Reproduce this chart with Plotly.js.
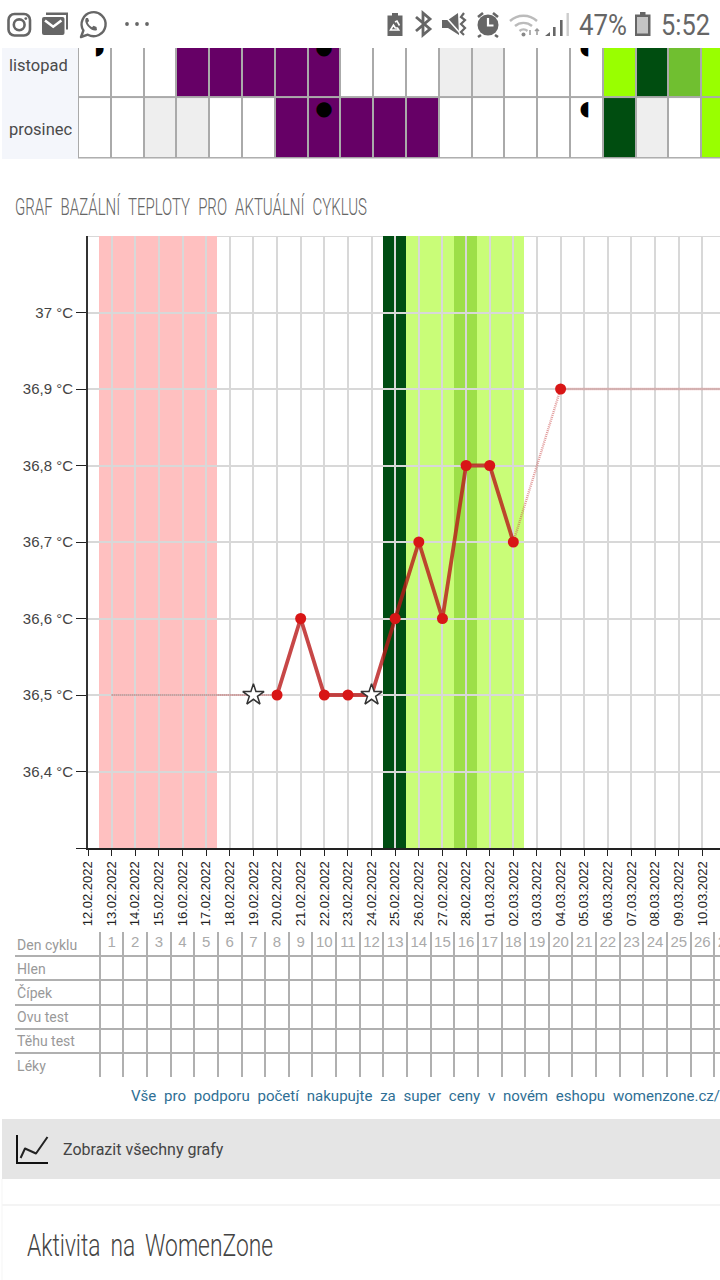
<!DOCTYPE html>
<html>
<head>
<meta charset="utf-8">
<script src="https://cdn.plot.ly/plotly-3.0.1.min.js"></script>
<style>
html,body{margin:0;padding:0;background:#fff;width:720px;height:1280px;overflow:hidden}
#wrap{position:relative;width:720px;height:1280px;overflow:hidden}
#chart{position:absolute;left:0;top:0}
#icons{position:absolute;left:0;top:0;pointer-events:none}
#icons text{font-family:Roboto,sans-serif}
</style>
</head>
<body>
<div id="wrap">
<div id="chart"></div>
<svg id="icons" width="720" height="1280" viewBox="0 0 720 1280" xmlns="http://www.w3.org/2000/svg">
  <g fill="none" stroke="#666" stroke-width="2.6">
    <rect x="8.5" y="14" width="21.5" height="21.5" rx="6"/>
    <circle cx="19.2" cy="24.8" r="5.4"/>
  </g>
  <circle cx="25.8" cy="18.6" r="1.4" fill="#666"/>
  <path d="M46 15v-2.5h22v17h-2V15z" fill="#666"/>
  <rect x="42" y="17" width="22.5" height="18" rx="2" fill="#666"/>
  <path d="M45 20.5l8.2 6.2 8.2-6.2" fill="none" stroke="#fff" stroke-width="2.6"/>
  <path d="M81 37l2.4-6.5a12 12 0 1 1 4.4 4.2z" fill="none" stroke="#666" stroke-width="2.4" stroke-linejoin="round"/>
  <path d="M86 18c-2 3 .5 7 3 9.5s5.5 4 8 2.5l-.5-3-3-1.3-1.5 1.5c-2-1-3.5-2.7-4.3-4.6l1.4-1.5-1.1-3z" fill="#666"/>
  <g fill="#666">
    <circle cx="127" cy="24" r="1.9"/><circle cx="137" cy="24" r="1.9"/><circle cx="147" cy="24" r="1.9"/>
    <path d="M392 13h6v2.5h4.5V36h-15V15.5H392z"/>
  </g>
  <path d="M390.5 30l3-5 1.8 3h2.2l1.2 2zM395 22l2-1 2.5 4.5" fill="none" stroke="#fff" stroke-width="1.6"/>
  <path d="M416 17l14 12-7 6V13l7 6-14 12" fill="none" stroke="#666" stroke-width="2.8"/>
  <path d="M442 20h6l10-7 1 22-11-7h-6z" fill="#666"/>
  <path d="M443 14l17 19" stroke="#fff" stroke-width="1.6"/>
  <path d="M464 13l-3 4 4 3-4 4 4 4-4 4 3 3" fill="none" stroke="#666" stroke-width="2.2"/>
  <circle cx="488" cy="25" r="10.5" fill="#666"/>
  <path d="M488 18v7.5h5.5" fill="none" stroke="#fff" stroke-width="2.2"/>
  <path d="M478 17l5-4M498 17l-5-4M481 35l-3 2M495 35l3 2" stroke="#666" stroke-width="2.6"/>
  <g fill="none" stroke="#bbb" stroke-width="2.4">
    <path d="M510 21a20 20 0 0 1 27 0"/><path d="M515 26a13 13 0 0 1 17 0"/><path d="M519.5 31a6 6 0 0 1 8 0"/>
  </g>
  <circle cx="523.5" cy="34.5" r="2" fill="#888"/>
  <path d="M530 30v5M535 31l2-2 2 2M537 29v6" fill="none" stroke="#999" stroke-width="1.5"/>
  <g fill="#666">
    <path d="M545 36l5-4v4zM553 36v-9h2.6v9z"/><path d="M560 36V20h2.6v16z"/>
  </g>
  <path d="M566.5 36V13h2.4v23z" fill="#ccc"/>
  <path d="M640 12h5.5v2.5h5V36h-15.5V14.5h5z" fill="#666"/>
  <rect x="637" y="17" width="11" height="16.5" fill="#c4c4c4"/>
  <path d="M17 1135v28h31" fill="none" stroke="#111" stroke-width="2"/>
  <path d="M20.6 1158L25 1148.5 36 1153.5 47.5 1137" fill="none" stroke="#222" stroke-width="2" stroke-linejoin="round"/>

  <text x="579" y="35" font-size="30" font-weight="400" fill="#666" textLength="48" lengthAdjust="spacingAndGlyphs">47%</text>
  <text x="661" y="35" font-size="30" font-weight="400" fill="#666" textLength="49" lengthAdjust="spacingAndGlyphs">5:52</text>
  <text x="15" y="215" font-size="24" font-weight="300" fill="#666" word-spacing="7" textLength="352" lengthAdjust="spacingAndGlyphs">GRAF BAZÁLNÍ TEPLOTY PRO AKTUÁLNÍ CYKLUS</text>
  <text x="131" y="1101" font-size="15" font-weight="400" fill="#2f6f95" word-spacing="4" textLength="589" lengthAdjust="spacingAndGlyphs">Vše pro podporu početí nakupujte za super ceny v novém eshopu womenzone.cz/</text>
  <text x="27" y="1256" font-size="32" font-weight="300" fill="#444" word-spacing="6" textLength="246" lengthAdjust="spacingAndGlyphs">Aktivita na WomenZone</text>
</svg>
</div>
<script>
// ---------- data ----------
var dates = ['12.02.2022','13.02.2022','14.02.2022','15.02.2022','16.02.2022','17.02.2022','18.02.2022','19.02.2022','20.02.2022','21.02.2022','22.02.2022','23.02.2022','24.02.2022','25.02.2022','26.02.2022','27.02.2022','28.02.2022','01.03.2022','02.03.2022','03.03.2022','04.03.2022','05.03.2022','06.03.2022','07.03.2022','08.03.2022','09.03.2022','10.03.2022','11.03.2022','12.03.2022'];

var bandDates = ['13.02.2022','14.02.2022','15.02.2022','16.02.2022','17.02.2022','25.02.2022','26.02.2022','27.02.2022','28.02.2022','01.03.2022','02.03.2022'];
var bandColors = ['#ffc0c0','#ffc0c0','#ffc0c0','#ffc0c0','#ffc0c0','#004d13','#c9fd78','#c9fd78','#9ddf48','#c9fd78','#c9fd78'];

var leadDates = ['13.02.2022','14.02.2022','15.02.2022','16.02.2022','17.02.2022','18.02.2022','19.02.2022','20.02.2022'];
var leadTemps = [36.5,36.5,36.5,36.5,36.5,36.5,36.5,36.5];

var mainDates = ['20.02.2022','21.02.2022','22.02.2022','23.02.2022','24.02.2022','25.02.2022','26.02.2022','27.02.2022','28.02.2022','01.03.2022','02.03.2022'];
var mainTemps = [36.5,36.6,36.5,36.5,36.5,36.6,36.7,36.6,36.8,36.8,36.7];

var tailDates = ['02.03.2022','04.03.2022','05.03.2022','06.03.2022','07.03.2022','08.03.2022','09.03.2022','10.03.2022','11.03.2022','12.03.2022'];
var tailTemps = [36.7,36.9,36.9,36.9,36.9,36.9,36.9,36.9,36.9,36.9];

var dotDates = ['20.02.2022','21.02.2022','22.02.2022','23.02.2022','25.02.2022','26.02.2022','27.02.2022','28.02.2022','01.03.2022','02.03.2022','04.03.2022'];
var dotTemps = [36.5,36.6,36.5,36.5,36.6,36.7,36.6,36.8,36.8,36.7,36.9];

var starDates = ['19.02.2022','24.02.2022'];
var starTemps = [36.5,36.5];

var tempTicks = [36.3,36.4,36.5,36.6,36.7,36.8,36.9,37];
var tempLabels = ['','36,4 °C','36,5 °C','36,6 °C','36,7 °C','36,8 °C','36,9 °C','37 °C'];

var cycleDays = [1,2,3,4,5,6,7,8,9,10,11,12,13,14,15,16,17,18,19,20,21,22,23,24,25,26,27];
var tableRows = ['Den cyklu','Hlen','Čípek','Ovu test','Těhu test','Léky'];

var calendarColumns = [0,1,2,3,4,5,6,7,8,9,10,11,12,13,14,15,16,17,18,19];
var listopadCells = [0,0,0,2,2,2,2,2,0,0,0,1,1,0,0,0,3,4,5,3];
var prosinecCells = [0,0,1,1,0,0,2,2,2,2,2,0,0,0,0,0,4,1,0,3];
var moonCols = [0.15,7,14.95,7,14.95];
var moonRows = [-0.28,-0.28,-0.28,0.72,0.72];
var moonGlyphs = ['◗','●','◖','●','◖'];

// ---------- page geometry ----------
var W = 760, H = 1280;
var px = function(x){return x/W;};
var py = function(y){return 1-y/H;};
var dayW = 23.63, chartL = 88, chartT = 236, chartB = 848;
var xRange = [0,(W-chartL)/dayW];
var tableXRange = [(15-chartL)/dayW,(W-chartL)/dayW];
var cellW = 32.8;

var sans = 'Liberation Sans, Arial, sans-serif';
var roboto = 'Roboto, sans-serif';

var traces = [
  {type:'bar',xaxis:'x',yaxis:'y',x:bandDates,y:bandDates.map(function(){return 0.8;}),base:36.3,width:1,offset:-0.53,
   marker:{color:bandColors,line:{width:0}},hoverinfo:'skip',showlegend:false},
  {type:'scatter',mode:'lines',xaxis:'x2',yaxis:'y2',x:leadDates,y:leadTemps,
   line:{color:'rgba(190,60,60,0.8)',width:1.5,dash:'1px,1px'},showlegend:false},
  {type:'scatter',mode:'lines',xaxis:'x2',yaxis:'y2',x:tailDates,y:tailTemps,
   line:{color:'rgba(205,85,85,0.6)',width:2.4,dash:'1px,1px'},showlegend:false},
  {type:'scatter',mode:'lines',xaxis:'x2',yaxis:'y2',x:mainDates,y:mainTemps,
   line:{color:'rgba(185,25,25,0.8)',width:3.8},showlegend:false},
  {type:'scatter',mode:'markers',xaxis:'x2',yaxis:'y2',x:dotDates,y:dotTemps,
   marker:{color:'#d81616',size:11,line:{width:0}},showlegend:false},
  {type:'scatter',mode:'markers',xaxis:'x2',yaxis:'y2',x:starDates,y:starTemps,
   marker:{symbol:'star',color:'#ffffff',size:16,line:{color:'#333',width:1.5}},showlegend:false},
  // calendar
  {type:'heatmap',xaxis:'x3',yaxis:'y3',x:calendarColumns,y:[0,1],z:[listopadCells,prosinecCells],xgap:2,ygap:2,
   zmin:0,zmax:5,showscale:false,hoverinfo:'skip',
   colorscale:[[0,'#ffffff'],[0.1666,'#ffffff'],[0.1667,'#eeeeee'],[0.3333,'#eeeeee'],[0.3334,'#660066'],[0.5,'#660066'],[0.5001,'#99ff00'],[0.6666,'#99ff00'],[0.6667,'#004d10'],[0.8333,'#004d10'],[0.8334,'#70bf30'],[1,'#70bf30']]},
  {type:'scatter',mode:'text',xaxis:'x3',yaxis:'y3',x:moonCols,y:moonRows,text:moonGlyphs,
   textfont:{family:'DejaVu Sans',size:20,color:'#000'},textposition:'middle center',showlegend:false,cliponaxis:true},
  // cycle table
  {type:'scatter',mode:'text',xaxis:'x4',yaxis:'y4',x:cycleDays,y:cycleDays.map(function(){return 0.47;}),text:cycleDays.map(String),
   textfont:{family:sans,size:15,color:'#aaaaaa'},textposition:'middle center',showlegend:false,cliponaxis:false},
  {type:'scatter',mode:'text',xaxis:'x4',yaxis:'y4',x:tableRows.map(function(){return -3;}),y:[0.58,1.58,2.58,3.58,4.58,5.58],text:tableRows,
   textfont:{family:roboto,size:14,color:'#999999'},textposition:'middle right',showlegend:false,cliponaxis:false}
];

function ann(text,x,y,size,color,family){
  return {text:text,xref:'paper',yref:'paper',x:px(x),y:py(y),xanchor:'left',yanchor:'middle',showarrow:false,
    font:{size:size,color:color,family:family},borderpad:0,borderwidth:0};
}

var layout = {
  width:W,height:H,margin:{l:0,r:0,t:0,b:0,pad:0},paper_bgcolor:'#ffffff',plot_bgcolor:'rgba(0,0,0,0)',
  showlegend:false,bargap:0,
  xaxis:{domain:[px(chartL),1],type:'category',categoryorder:'array',categoryarray:dates,range:xRange,visible:false,anchor:'y',fixedrange:true},
  yaxis:{domain:[py(chartB),py(chartT)],range:[36.3,37.1],visible:false,anchor:'x',fixedrange:true},
  xaxis2:{domain:[px(chartL),1],type:'category',categoryorder:'array',categoryarray:dates,range:xRange,anchor:'y2',
    tickmode:'array',tickvals:dates,ticktext:dates,tickangle:-90,ticks:'outside',ticklen:6,tickwidth:1,tickcolor:'#222',
    showline:true,linecolor:'#222',linewidth:2,showgrid:true,gridcolor:'#d8d8d8',gridwidth:2,
    tickfont:{family:sans,size:13,color:'#222'},fixedrange:true},
  yaxis2:{domain:[py(chartB),py(chartT)],range:[36.3,37.1],anchor:'x2',tickmode:'array',tickvals:tempTicks,ticktext:tempLabels,
    ticks:'outside',ticklen:10,tickwidth:1,tickcolor:'#222',showline:true,linecolor:'#333',linewidth:2,
    showgrid:true,gridcolor:'#d8d8d8',gridwidth:2,zeroline:false,tickfont:{family:sans,size:15,color:'#444'},fixedrange:true},
  xaxis3:{domain:[px(78),1],range:[-0.5,(W-78)/cellW-0.5],visible:false,anchor:'y3',fixedrange:true},
  yaxis3:{domain:[py(158.5),py(48)],range:[1.5,-0.29],visible:false,anchor:'x3',fixedrange:true},
  xaxis4:{domain:[px(15),1],range:tableXRange,anchor:'y4',showticklabels:false,ticks:'',zeroline:false,
    tickmode:'array',tickvals:cycleDays.concat([28]).map(function(d){return d-0.5;}),showgrid:true,gridcolor:'#b0b0b0',gridwidth:2,fixedrange:true},
  yaxis4:{domain:[py(1077.4),py(932)],range:[6,0],anchor:'x4',showticklabels:false,ticks:'',zeroline:false,
    tickmode:'array',tickvals:[0,1,2,3,4,5,6],showgrid:true,gridcolor:'#b0b0b0',gridwidth:2,fixedrange:true},
  shapes:[
    {type:'rect',xref:'paper',yref:'paper',x0:px(2),x1:px(78),y0:py(159),y1:py(48),fillcolor:'#f4f6fb',line:{width:0},layer:'below'},
    {type:'rect',xref:'x3 domain',yref:'y3 domain',x0:0,x1:1,y0:0,y1:1,fillcolor:'#aaaaaa',line:{width:0},layer:'below'},
    {type:'line',xref:'x2 domain',yref:'y2',x0:0,x1:1,y0:37.1,y1:37.1,line:{color:'#d8d8d8',width:2},layer:'below'},
    {type:'rect',xref:'paper',yref:'paper',x0:px(2),x1:1,y0:py(1179),y1:py(1119),fillcolor:'#e5e5e5',line:{width:0},layer:'below'},
    {type:'line',xref:'paper',yref:'paper',x0:px(2),x1:1,y0:py(1205),y1:py(1205),line:{color:'#f0f0f0',width:1.5},layer:'below'},
    {type:'line',xref:'paper',yref:'paper',x0:px(2),x1:px(2),y0:py(1280),y1:py(1179),line:{color:'#f5f5f5',width:1},layer:'below'}
  ],
  annotations:[
    ann('listopad',9,66,16.5,'#4a4a4a',roboto),
    ann('prosinec',9,129,16.5,'#4a4a4a',roboto),
    ann('Zobrazit všechny grafy',63,1149,16,'#444',roboto)
  ]
};
Plotly.newPlot('chart',traces,layout,{displayModeBar:false,staticPlot:true});
</script>
</body>
</html>
